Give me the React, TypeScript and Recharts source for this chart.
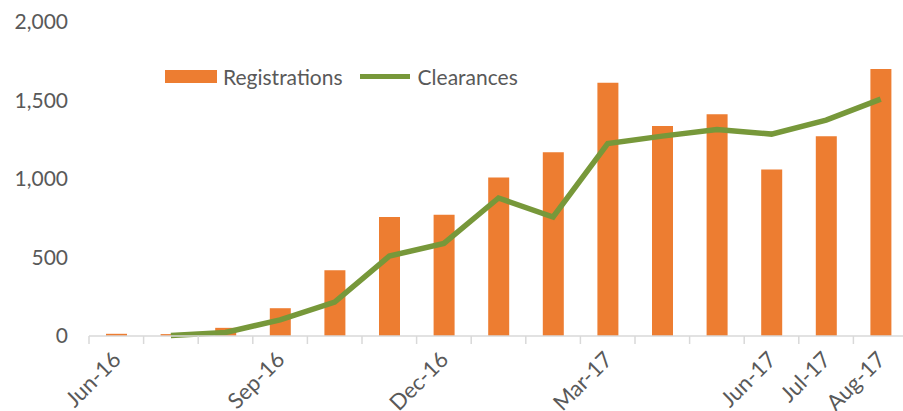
import { Bar, ComposedChart, Legend, Line, XAxis, YAxis } from 'recharts';

const months = [
  'Jun-16', 'Jul-16', 'Aug-16', 'Sep-16', 'Oct-16', 'Nov-16', 'Dec-16', 'Jan-17',
  'Feb-17', 'Mar-17', 'Apr-17', 'May-17', 'Jun-17', 'Jul-17', 'Aug-17',
];
const registrations = [14, 12, 52, 177, 418, 758, 773, 1009, 1170, 1613, 1337, 1413, 1060, 1273, 1700];
const clearances = [null, 3, 22, 103, 216, 509, 590, 879, 758, 1226, 1273, 1315, 1286, 1375, 1509];
const labelIndexes = [0, 3, 6, 9, 12, 13, 14];
const yTicks = [0, 500, 1000, 1500, 2000];

const data = months.map((m, i) => ({
  idx: i,
  month: m,
  registrations: registrations[i],
  clearances: clearances[i],
}));

// tick marks sit between the months, like in Excel
const boundaries = months.map((_, i) => i - 0.5).concat([months.length - 0.5]);

const FONT = 'Lato, "Open Sans", sans-serif';
const TEXT = '#595959';
const ORANGE = '#ED7D31';
const GREEN = '#77983A';

function EmptyTick() {
  return <g />;
}

function MonthTick(props: any) {
  const { x, y, payload } = props;
  const ax = x + 6;
  const ay = y + 17;
  return (
    <text
      x={ax}
      y={ay}
      transform={`rotate(-45 ${ax} ${ay})`}
      textAnchor="end"
      fill={TEXT}
      fontSize={22}
      fontFamily={FONT}
    >
      {months[payload.value]}
    </text>
  );
}

function LegendContent() {
  return (
    <div style={{ display: 'flex', alignItems: 'center', fontFamily: FONT, fontSize: 21, color: TEXT, whiteSpace: 'nowrap' }}>
      <span style={{ width: 52, height: 13, background: ORANGE, display: 'inline-block', marginRight: 6 }} />
      <span style={{ marginRight: 17 }}>Registrations</span>
      <span style={{ width: 50, height: 5, background: GREEN, display: 'inline-block', marginRight: 8 }} />
      <span>Clearances</span>
    </div>
  );
}

export default function App() {
  return (
    <div style={{ position: 'absolute', left: 0, top: 0, width: 903, height: 411, overflow: 'hidden', background: '#fff' }}>
      <ComposedChart width={910} height={411} data={data} margin={{ top: 22, right: 2, bottom: 0, left: 0 }}>
        <XAxis
          dataKey="idx"
          type="number"
          domain={[-0.5, 14.5]}
          ticks={boundaries}
          tick={<EmptyTick />}
          tickSize={8}
          height={8}
          stroke="#d9d9d9"
          strokeWidth={1.5}
          interval={0}
        />
        <XAxis
          xAxisId="lab"
          dataKey="idx"
          type="number"
          domain={[-0.5, 14.5]}
          ticks={labelIndexes}
          tick={<MonthTick />}
          axisLine={false}
          tickLine={false}
          tickSize={0}
          tickMargin={0}
          height={67}
          interval={0}
        />
        <YAxis
          domain={[0, 2000]}
          ticks={yTicks}
          axisLine={false}
          tickLine={false}
          width={89}
          tickMargin={15}
          tick={{ fill: TEXT, fontSize: 21, fontFamily: FONT }}
          tickFormatter={(v: number) => v.toLocaleString('en-US')}
        />
        <Legend
          verticalAlign="middle"
          align="center"
          content={<LegendContent />}
          wrapperStyle={{ top: 64, left: 165, width: 'auto' }}
        />
        <Bar dataKey="registrations" name="Registrations" fill={ORANGE} barSize={21} isAnimationActive={false} />
        <Line
          dataKey="clearances"
          name="Clearances"
          type="linear"
          stroke={GREEN}
          strokeWidth={5.5}
          dot={false}
          activeDot={false}
          isAnimationActive={false}
        />
      </ComposedChart>
    </div>
  );
}
